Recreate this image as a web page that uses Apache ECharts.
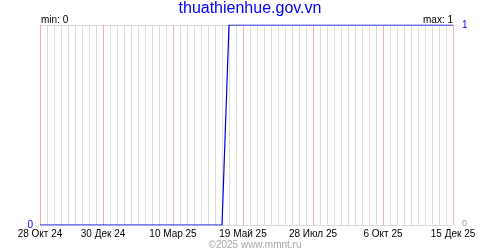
<!DOCTYPE html>
<html><head><meta charset="utf-8">
<script src="https://cdn.jsdelivr.net/npm/echarts@6/dist/echarts.min.js"></script>
<style>html,body{margin:0;padding:0;background:#fff}#c{width:500px;height:250px}</style>
</head><body><div id="c"></div><script>
const titleText = 'thuathienhue.gov.vn';
const copyrightText = '©2025 www.mmnt.ru';
const weeks = [
  '2024-10-28','2024-11-04','2024-11-11','2024-11-18','2024-11-25','2024-12-02','2024-12-09','2024-12-16','2024-12-23','2024-12-30',
  '2025-01-06','2025-01-13','2025-01-20','2025-01-27','2025-02-03','2025-02-10','2025-02-17','2025-02-24','2025-03-03','2025-03-10',
  '2025-03-17','2025-03-24','2025-03-31','2025-04-07','2025-04-14','2025-04-21','2025-04-28','2025-05-05','2025-05-12','2025-05-19',
  '2025-05-26','2025-06-02','2025-06-09','2025-06-16','2025-06-23','2025-06-30','2025-07-07','2025-07-14','2025-07-21','2025-07-28',
  '2025-08-04','2025-08-11','2025-08-18','2025-08-25','2025-09-01','2025-09-08','2025-09-15','2025-09-22','2025-09-29','2025-10-06',
  '2025-10-13','2025-10-20','2025-10-27','2025-11-03','2025-11-10','2025-11-17','2025-11-24','2025-12-01','2025-12-08','2025-12-15'
];
const values = [
  0,0,0,0,0,0,0,0,0,0,
  0,0,0,0,0,0,0,0,0,0,
  0,0,0,0,0,0,0,1,1,1,
  1,1,1,1,1,1,1,1,1,1,
  1,1,1,1,1,1,1,1,1,1,
  1,1,1,1,1,1,1,1,1,1
];
const tickDates = ['2024-10-28','2024-12-30','2025-03-10','2025-05-19','2025-07-28','2025-10-06','2025-12-15'];
const tickLabels = ['28 Окт 24','30 Дек 24','10 Мар 25','19 Май 25','28 Июл 25','6 Окт 25','15 Дек 25'];
const minText = 'min: 0';
const maxText = 'max: 1';

const FONT = '"Liberation Sans", Arial, sans-serif';
const GRAY = '#dcdcdc', PINK = '#f4b0b0';
const isTick = (i, v) => tickDates.indexOf(weeks[i]) >= 0;
const notTick = (i, v) => tickDates.indexOf(weeks[i]) < 0;
const chart = echarts.init(document.getElementById('c'), null, {renderer: 'canvas'});
chart.setOption({
  animation: false,
  backgroundColor: '#fff',
  textStyle: {fontFamily: FONT},
  grid: {left: 40, right: 47, top: 25, bottom: 25, containLabel: false},
  xAxis: [
    {type: 'category', data: weeks, boundaryGap: false, position: 'top',
     axisLine: {show: false}, axisTick: {show: false, interval: notTick}, axisLabel: {show: false, interval: notTick},
     splitLine: {show: true, interval: notTick, lineStyle: {color: weeks.map(() => GRAY), width: 1}}},
    {type: 'category', data: weeks, boundaryGap: false, position: 'bottom',
     axisLine: {show: false}, axisTick: {show: false, interval: isTick},
     axisLabel: {show: true, interval: isTick, margin: 4, color: '#000', fontSize: 10, fontFamily: FONT,
       formatter: v => tickLabels[tickDates.indexOf(v)] || ''},
     splitLine: {show: true, interval: isTick, lineStyle: {color: weeks.map(() => PINK), width: 1}}}
  ],
  yAxis: [
    {type: 'value', min: 0, max: 1, interval: 1, position: 'left',
     axisLine: {show: false}, axisTick: {show: false},
     axisLabel: {margin: 7, color: '#0000ff', fontSize: 10, fontFamily: FONT, formatter: v => v === 0 ? '0' : ''},
     splitLine: {show: true, lineStyle: {color: [GRAY, GRAY], width: 1}}},
    {type: 'value', min: 0, max: 1, interval: 1, position: 'right',
     axisLine: {show: false}, axisTick: {show: false}, splitLine: {show: false},
     axisLabel: {margin: 9, fontFamily: FONT,
       formatter: v => v === 1 ? '{b|1}' : '{g|0}',
       rich: {b: {color: '#0000ff', fontSize: 10, fontFamily: FONT},
              g: {color: '#a0a0a0', fontSize: 9, fontFamily: FONT, padding: [0, 0, 3, 0]}}}}
  ],
  series: [{
    type: 'line', xAxisIndex: 1, yAxisIndex: 0, data: values,
    symbol: 'none', lineStyle: {color: '#0000e0', width: 1.2}, z: 5
  }],
  graphic: [
    {type: 'text', left: 'center', top: 1, style: {text: titleText, fill: '#0000ff', font: '16px ' + FONT}},
    {type: 'text', x: 41, y: 20, style: {text: minText, fill: '#000', font: '10px ' + FONT, textVerticalAlign: 'middle'}},
    {type: 'text', x: 453, y: 20, style: {text: maxText, fill: '#000', font: '10px ' + FONT, textAlign: 'right', textVerticalAlign: 'middle'}},
    {type: 'text', x: 255, y: 245.5, style: {text: copyrightText, fill: '#a8a8a8', font: '10px ' + FONT, textAlign: 'center', textVerticalAlign: 'middle'}}
  ]
});
</script></body></html>
